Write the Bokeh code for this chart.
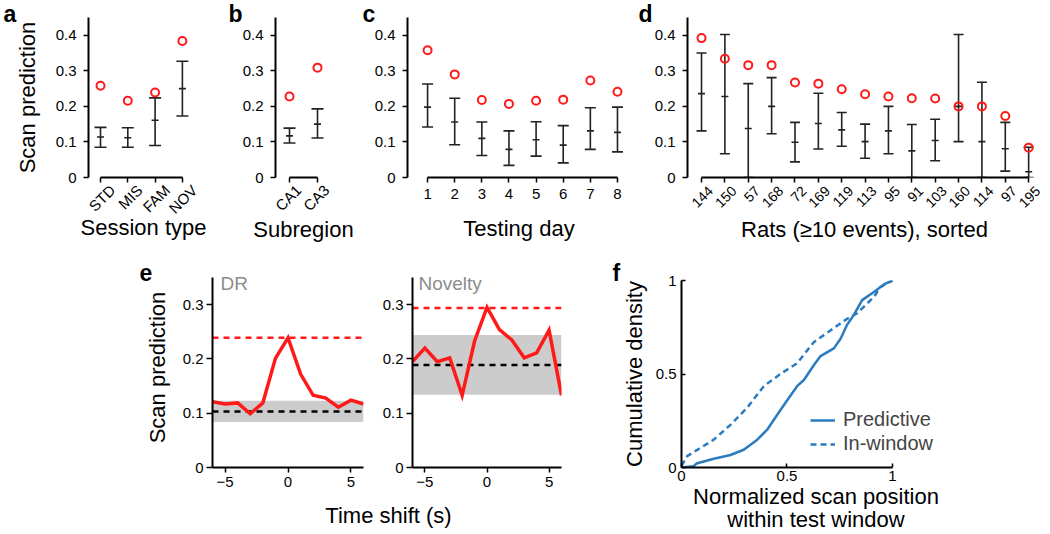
import math
from bokeh.plotting import figure
from bokeh.layouts import row, column
from bokeh.models import (FixedTicker, Label, Span, BoxAnnotation, Legend, LegendItem,
                          Range1d, LinearAxis)
from bokeh.embed import file_html
from bokeh.resources import INLINE

FONT = "Liberation Sans"
RED = "#ff1a1a"
BAR = "#222222"
BLUE = "#2b7bbf"
BASE_SHIFT = 8  # Label alphabetic baseline lands this many px lower than y

# ---- panel a: session type ----
session_types = ["STD", "MIS", "FAM", "NOV"]
session_obs = [0.258, 0.216, 0.239, 0.384]
session_mean = [0.114, 0.112, 0.161, 0.250]
session_lo = [0.085, 0.085, 0.090, 0.173]
session_hi = [0.141, 0.140, 0.224, 0.327]

# ---- panel b: subregion ----
subregions = ["CA1", "CA3"]
sub_obs = [0.228, 0.309]
sub_mean = [0.117, 0.150]
sub_lo = [0.097, 0.111]
sub_hi = [0.139, 0.193]

# ---- panel c: testing day ----
days = ["1", "2", "3", "4", "5", "6", "7", "8"]
day_obs = [0.358, 0.290, 0.218, 0.207, 0.216, 0.219, 0.273, 0.241]
day_mean = [0.198, 0.156, 0.110, 0.079, 0.106, 0.091, 0.131, 0.127]
day_lo = [0.142, 0.092, 0.062, 0.034, 0.060, 0.041, 0.079, 0.072]
day_hi = [0.263, 0.223, 0.156, 0.131, 0.157, 0.146, 0.196, 0.198]

# ---- panel d: rats ----
rats = ["144", "150", "57", "168", "72", "169", "119", "113", "95", "91", "103", "160", "114", "97", "195"]
rat_obs = [0.392, 0.334, 0.316, 0.316, 0.267, 0.264, 0.248, 0.234, 0.228, 0.223, 0.222, 0.200, 0.200, 0.173, 0.084]
rat_mean = [0.236, 0.228, 0.138, 0.200, 0.099, 0.152, 0.134, 0.101, 0.131, 0.075, 0.104, 0.200, 0.101, 0.081, 0.016]
rat_lo = [0.131, 0.067, 0.0, 0.123, 0.044, 0.080, 0.088, 0.054, 0.067, 0.0, 0.047, 0.101, 0.0, 0.018, 0.0]
rat_hi = [0.350, 0.402, 0.264, 0.281, 0.155, 0.237, 0.183, 0.150, 0.200, 0.149, 0.164, 0.402, 0.268, 0.155, 0.085]

# ---- panel e: time shift ----
shifts = [-6, -5, -4, -3, -2, -1, 0, 1, 2, 3, 4, 5, 6]
dr_pred = [0.121, 0.117, 0.119, 0.099, 0.119, 0.201, 0.239, 0.172, 0.133, 0.128, 0.111, 0.124, 0.117]
dr_obs = 0.239
dr_null_mean = 0.103
dr_null_lo = 0.084
dr_null_hi = 0.123
nov_pred = [0.195, 0.220, 0.195, 0.202, 0.133, 0.233, 0.295, 0.254, 0.235, 0.202, 0.211, 0.253, 0.133]
nov_obs = 0.294
nov_null_mean = 0.189
nov_null_lo = 0.134
nov_null_hi = 0.244

# ---- panel f: cumulative density ----
pred_x = [0.0, 0.058, 0.071, 0.153, 0.232, 0.295, 0.359, 0.406, 0.453, 0.501, 0.548, 0.580, 0.627,
          0.659, 0.722, 0.754, 0.785, 0.817, 0.856, 0.912, 0.959, 1.0]
pred_y = [0.0, 0.007, 0.021, 0.047, 0.067, 0.095, 0.149, 0.202, 0.281, 0.360, 0.435, 0.468, 0.547,
          0.596, 0.637, 0.688, 0.763, 0.816, 0.895, 0.939, 0.979, 1.0]
win_x = [0.0, 0.027, 0.090, 0.153, 0.232, 0.311, 0.390, 0.469, 0.548, 0.627, 0.706, 0.785, 0.833,
         0.880, 0.912, 0.943, 1.0]
win_y = [0.009, 0.061, 0.105, 0.149, 0.228, 0.319, 0.435, 0.500, 0.558, 0.670, 0.733, 0.795, 0.825,
         0.877, 0.912, 0.965, 1.0]


def style_axis(ax, tick_size="15px", label_size="22px"):
    ax.axis_line_width = 2
    ax.axis_line_color = "black"
    ax.major_tick_line_width = 1.5
    ax.major_tick_line_color = "black"
    ax.minor_tick_line_color = None
    ax.major_label_text_font = FONT
    ax.major_label_text_font_size = tick_size
    ax.major_label_text_color = "black"
    ax.axis_label_text_font = FONT
    ax.axis_label_text_font_size = label_size
    ax.axis_label_text_font_style = "normal"
    ax.axis_label_text_color = "black"


def style_fig(p, tick_size="15px"):
    style_axis(p.xaxis[0], tick_size)
    style_axis(p.yaxis[0], tick_size)
    p.grid.visible = False
    p.outline_line_color = None
    p.background_fill_color = "white"
    p.border_fill_color = None  # transparent margins so panel letters behind stay visible


def strip(width, height):
    s = figure(width=width, height=height, x_axis_type=None, y_axis_type=None, min_border=0,
               toolbar_location=None, output_backend="svg")
    s.outline_line_color = None
    s.grid.visible = False
    return s


def text_at(p, txt, x, baseline, size, bold=False, align="left", color="black"):
    p.add_layout(Label(x=x, y=baseline - BASE_SHIFT, x_units="canvas", y_units="canvas",
                       text=txt, text_font=FONT,
                       text_font_style="bold" if bold else "normal",
                       text_font_size=size, text_align=align, text_baseline="alphabetic",
                       text_color=color))


def blank_axis(label, standoff):
    ax = LinearAxis(ticker=FixedTicker(ticks=[]))
    style_axis(ax)
    ax.axis_line_color = None
    ax.major_tick_line_color = None
    ax.major_tick_in = 0
    ax.major_tick_out = 0
    ax.major_label_standoff = 0
    ax.axis_label = label
    ax.axis_label_standoff = standoff
    return ax


def top_panel(cats, obs, mean, lo, hi, width, left, xr, scale, xlabel, rotate=True,
              ylabel=None, cap=12, lab_off=0, lab_standoff=5, axlab_standoff=0,
              rot_size="15px"):
    n = len(cats)
    xs = list(range(1, n + 1))
    frame_w = int(round((xr[1] - xr[0]) * scale))
    p = figure(width=width, height=241, x_range=Range1d(*xr), y_range=Range1d(0, 0.45),
               min_border_left=left, min_border_right=width - left - frame_w, min_border_top=0,
               min_border_bottom=81, toolbar_location=None, output_backend="svg")
    style_fig(p)
    p.segment(x0=xs, y0=lo, x1=xs, y1=hi, line_color=BAR, line_width=1.6)
    p.scatter(xs, lo, marker="dash", size=cap, line_color=BAR, line_width=1.6)
    p.scatter(xs, hi, marker="dash", size=cap, line_color=BAR, line_width=1.6)
    p.scatter(xs, mean, marker="dash", size=7, line_color=BAR, line_width=1.6)
    p.scatter(xs, obs, marker="circle", size=8, fill_color=None, line_color=RED, line_width=2)
    xa = p.xaxis[0]
    xa.ticker = FixedTicker(ticks=xs)
    xa.bounds = (1, n)
    xa.major_tick_out = 5
    xa.major_tick_in = 0
    if rotate:
        # tick marks on the first axis, slanted labels on a second, unlined axis below it
        xa.major_label_overrides = {x: "" for x in xs}
        xa.major_label_text_font_size = "0px"
        xa.major_label_standoff = 0
        off = lab_off / scale
        lab_x = [x + off for x in xs]
        xa2 = LinearAxis(ticker=FixedTicker(ticks=lab_x),
                         major_label_overrides={lx: c for lx, c in zip(lab_x, cats)})
        style_axis(xa2, rot_size)
        xa2.axis_line_color = None
        xa2.major_tick_line_color = None
        xa2.major_tick_in = 0
        xa2.major_tick_out = 0
        xa2.major_label_orientation = math.pi / 4
        xa2.major_label_standoff = lab_standoff
        xa2.axis_label = xlabel
        xa2.axis_label_standoff = axlab_standoff
        p.add_layout(xa2, "below")
    else:
        xa.major_label_overrides = {x: c for x, c in zip(xs, cats)}
        xa.major_label_standoff = 6
        xa.axis_label = xlabel
        xa.axis_label_standoff = axlab_standoff
    ya = p.yaxis[0]
    ya.ticker = FixedTicker(ticks=[0, 0.1, 0.2, 0.3, 0.4])
    ya.major_label_overrides = {0: "0"}
    ya.major_tick_out = 5
    ya.major_tick_in = 0
    ya.major_label_standoff = 7
    if ylabel:
        ya.axis_label = ylabel
        ya.axis_label_standoff = 13
    return p


pa = top_panel(session_types, session_obs, session_mean, session_lo, session_hi,
               208, 88, (0.56, 4.59), 27.3, "Session type", ylabel="Scan prediction",
               cap=12, lab_off=12, lab_standoff=5, axlab_standoff=-11)
pb = top_panel(subregions, sub_obs, sub_mean, sub_lo, sub_hi,
               152, 67, (0.5, 2.5), 28.0, "Subregion",
               cap=12, lab_off=9, lab_standoff=5, axlab_standoff=-6)
pc = top_panel(days, day_obs, day_mean, day_lo, day_hi,
               278, 47, (0.26, 8.48), 27.14, "Testing day", rotate=False,
               cap=11, axlab_standoff=14)
pd = top_panel(rats, rat_obs, rat_mean, rat_lo, rat_hi,
               412, 49, (0.4, 15.55), 23.36, "Rats (\u226510 events), sorted",
               cap=10, lab_off=9, lab_standoff=6, axlab_standoff=2, rot_size="14px")

top_letters = strip(1050, 27)
for t, x in zip(["a", "b", "c", "d"], [3, 228, 362, 638]):
    text_at(top_letters, t, x, 21, "23px", bold=True)

E_TOP = 0.35 + 10 / 542.86  # frame reaches 10 px above the 0.35 end of the axis


def shift_panel(pred, obs, nmean, nlo, nhi, width, left, right, name, name_x, ylabel=None):
    p = figure(width=width, height=229, x_range=Range1d(-6, 6), y_range=Range1d(0, E_TOP),
               min_border_left=left, min_border_right=right, min_border_top=0,
               min_border_bottom=29, toolbar_location=None, output_backend="svg")
    style_fig(p)
    p.add_layout(BoxAnnotation(bottom=nlo, top=nhi, fill_color="#cccccc", fill_alpha=1,
                               line_color=None, level="underlay"))
    p.add_layout(Span(location=obs, dimension="width", line_color=RED, line_width=2.5,
                      line_dash="6 5", level="underlay"))
    p.add_layout(Span(location=nmean, dimension="width", line_color="black", line_width=2.5,
                      line_dash="6 5", level="underlay"))
    p.line(shifts, pred, line_color=RED, line_width=3.5, line_join="miter")
    xa = p.xaxis[0]
    xa.ticker = FixedTicker(ticks=[-5, 0, 5])
    xa.major_label_overrides = {-5: "\u22125", 0: "0", 5: "5"}
    xa.major_tick_out = 5
    xa.major_tick_in = 0
    xa.major_label_standoff = 4
    ya = p.yaxis[0]
    ya.ticker = FixedTicker(ticks=[0, 0.1, 0.2, 0.3])
    ya.major_label_overrides = {0: "0"}
    ya.bounds = (0, 0.35)
    ya.major_tick_out = 6
    ya.major_tick_in = 0
    ya.major_label_standoff = 3
    if ylabel:
        ya.axis_label = ylabel
        ya.axis_label_standoff = 10
    text_at(p, name, name_x, 24, "19px", color="#8c8c8c")
    return p


pe1 = shift_panel(dr_pred, dr_obs, dr_null_mean, dr_null_lo, dr_null_hi, 375, 212, 12,
                  "DR", 220, ylabel="Scan prediction")
pe2 = shift_panel(nov_pred, nov_obs, nov_null_mean, nov_null_lo, nov_null_hi, 205, 37, 19,
                  "Novelty", 43)
e_text = strip(580, 38)
text_at(e_text, "Time shift (s)", 388, 27, "22px", align="center")

pf = figure(width=470, height=267, x_range=Range1d(0, 1.275), y_range=Range1d(0, 1),
            min_border_left=101, min_border_right=100, min_border_top=13, min_border_bottom=64,
            toolbar_location=None, output_backend="svg")
style_fig(pf)
r1 = pf.line(pred_x, pred_y, line_color=BLUE, line_width=2.5)
r2 = pf.line(win_x, win_y, line_color=BLUE, line_width=2.5, line_dash="6 4")
for ax in (pf.xaxis[0], pf.yaxis[0]):
    ax.ticker = FixedTicker(ticks=[0, 0.5, 1])
    ax.major_label_overrides = {0: "0", 1: "1"}
    ax.major_tick_in = 4
    ax.major_tick_out = 0
pf.xaxis[0].bounds = (0, 1)
pf.xaxis[0].major_label_standoff = 3
pf.xaxis[0].axis_label = "Normalized scan position"
pf.xaxis[0].axis_label_standoff = 0
pf.add_layout(blank_axis("within test window", -5), "below")
pf.yaxis[0].major_label_standoff = 5
pf.yaxis[0].axis_label = "Cumulative density"
pf.yaxis[0].axis_label_standoff = 6
legend = Legend(items=[LegendItem(label="Predictive", renderers=[r1]),
                       LegendItem(label="In-window", renderers=[r2])],
                location=(129, 12), padding=0, spacing=1, glyph_width=25, label_height=20,
                glyph_height=20, label_standoff=8, border_line_color=None,
                background_fill_alpha=0, label_text_font=FONT, label_text_font_size="20px")
pf.add_layout(legend)

bottom_letters = strip(1050, 27)
text_at(bottom_letters, "e", 139, 22, "23px", bold=True)
text_at(bottom_letters, "f", 612, 22, "23px", bold=True)

layout = column(
    top_letters,
    row(pa, pb, pc, pd, styles={"margin-top": "-10px"}),
    bottom_letters,
    row(column(row(pe1, pe2), e_text), pf, styles={"margin-top": "-18px"}),
)

open("out.html", "w").write(file_html(layout, INLINE))
